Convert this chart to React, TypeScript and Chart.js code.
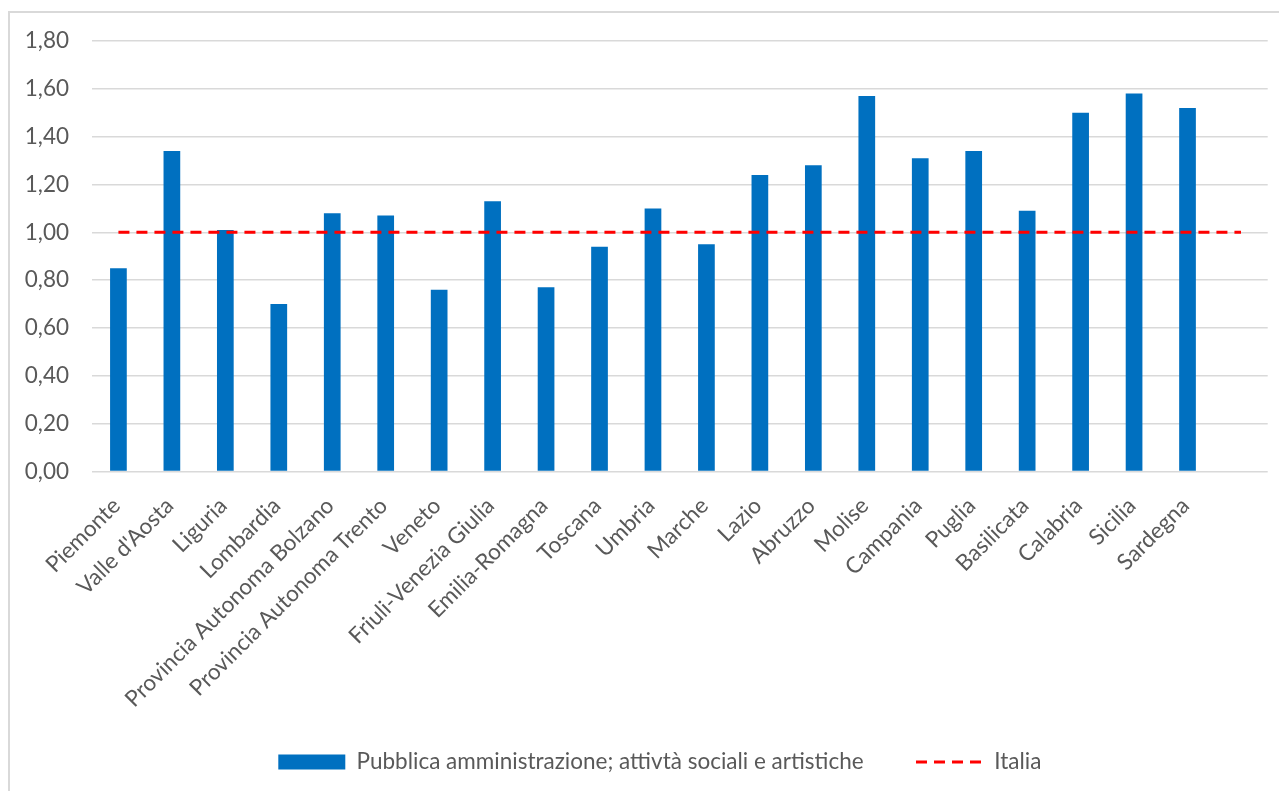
import React, { useEffect, useRef } from "react";
import { Chart, registerables } from "chart.js";

Chart.register(...registerables);

// ---- Data -------------------------------------------------------------
const categories: string[] = [
  "Piemonte",
  "Valle d'Aosta",
  "Liguria",
  "Lombardia",
  "Provincia Autonoma Bolzano",
  "Provincia Autonoma Trento",
  "Veneto",
  "Friuli-Venezia Giulia",
  "Emilia-Romagna",
  "Toscana",
  "Umbria",
  "Marche",
  "Lazio",
  "Abruzzo",
  "Molise",
  "Campania",
  "Puglia",
  "Basilicata",
  "Calabria",
  "Sicilia",
  "Sardegna",
  "",
];

const regionValues: (number | null)[] = [
  0.85, 1.34, 1.01, 0.7, 1.08, 1.07, 0.76, 1.13, 0.77, 0.94, 1.1, 0.95, 1.24,
  1.28, 1.57, 1.31, 1.34, 1.09, 1.5, 1.58, 1.52, null,
];

const italiaValues: number[] = [
  1.0, 1.0, 1.0, 1.0, 1.0, 1.0, 1.0, 1.0, 1.0, 1.0, 1.0, 1.0, 1.0, 1.0, 1.0,
  1.0, 1.0, 1.0, 1.0, 1.0, 1.0, 1.0,
];

const yTickValues: number[] = [0, 0.2, 0.4, 0.6, 0.8, 1.0, 1.2, 1.4, 1.6, 1.8];

const seriesLabel = "Pubblica amministrazione; attivtà sociali e artistiche";
const italiaLabel = "Italia";

// ---- Styles -------------------------------------------------------------
const BAR_COLOR = "#0070C0";
const LINE_COLOR = "#FF0000";
const GRID_COLOR = "#D9D9D9";
const TEXT_COLOR = "#595959";
const FONT_FAMILY = "Lato";
const FONT_SIZE = 22.5;

const formatTick = (v: number) => Number(v).toFixed(2).replace(".", ",");

export default function App() {
  const canvasRef = useRef<HTMLCanvasElement>(null);

  useEffect(() => {
    document.documentElement.style.overflow = "hidden";
    document.body.style.overflow = "hidden";

    const measure = document.createElement("canvas").getContext("2d")!;
    measure.font = `${FONT_SIZE}px ${FONT_FAMILY}`;
    const textW = measure.measureText(seriesLabel).width;
    const yLabelW = measure.measureText(formatTick(1.8)).width;
    const BOX_W = 67;
    const legendPad = Math.max(10, 906 - 268.3 - BOX_W - FONT_SIZE / 2 - textW);
    const PLOT_LEFT = 81.7;
    const Y_LABEL_RIGHT = 59;
    const padLeft = Math.max(0, Y_LABEL_RIGHT - yLabelW);

    const chart = new Chart(canvasRef.current!, {
      type: "bar",
      data: {
        labels: categories,
        datasets: [
          {
            type: "bar",
            label: seriesLabel,
            data: regionValues,
            backgroundColor: BAR_COLOR,
            borderWidth: 0,
            barPercentage: 0.3125,
            categoryPercentage: 1,
            order: 2,
          } as any,
          {
            type: "line",
            label: italiaLabel,
            data: italiaValues,
            borderColor: LINE_COLOR,
            backgroundColor: LINE_COLOR,
            borderWidth: 3,
            borderDash: [11, 7],
            pointRadius: 0,
            fill: false,
            tension: 0,
            order: 1,
          } as any,
        ],
      },
      options: {
        animation: false,
        responsive: true,
        maintainAspectRatio: false,
        layout: { padding: { left: padLeft, top: 28, right: 27.3, bottom: 0 } },
        plugins: {
          tooltip: { enabled: false },
          legend: {
            position: "bottom",
            align: "start",
            maxHeight: 40,
            labels: {
              color: TEXT_COLOR,
              font: { family: FONT_FAMILY, size: FONT_SIZE },
              usePointStyle: true,
              pointStyleWidth: BOX_W,
              boxHeight: 15,
              padding: legendPad,
              generateLabels: (ch: any) => {
                const items = (Chart.defaults.plugins.legend.labels as any).generateLabels(ch);
                items.sort((a: any, b: any) => a.datasetIndex - b.datasetIndex);
                return items.map((it: any) =>
                  it.datasetIndex === 0
                    ? {
                        ...it,
                        pointStyle: "rect",
                        fillStyle: BAR_COLOR,
                        strokeStyle: BAR_COLOR,
                        lineWidth: 0,
                        lineDash: [],
                        rotation: 0,
                      }
                    : {
                        ...it,
                        pointStyle: "line",
                        fillStyle: LINE_COLOR,
                        strokeStyle: LINE_COLOR,
                        lineWidth: 3,
                        lineDash: [11, 7],
                        lineCap: "butt",
                        rotation: 0,
                      }
                );
              },
            },
          },
        },
        scales: {
          x: {
            grid: { display: false, drawTicks: false },
            border: { display: false },
            ticks: {
              color: TEXT_COLOR,
              font: { family: FONT_FAMILY, size: FONT_SIZE },
              minRotation: 45,
              maxRotation: 45,
              autoSkip: false,
              padding: 21,
              labelOffset: -2,
            },
            afterFit: (s: any) => {
              const lgH = s.chart.legend ? s.chart.legend.height : 0;
              s.height = s.chart.height - lgH - 458.5;
            },
          },
          y: {
            min: 0,
            max: 1.8,
            grid: { color: GRID_COLOR, lineWidth: 1.5, drawTicks: false },
            border: { display: false },
            ticks: {
              color: TEXT_COLOR,
              font: { family: FONT_FAMILY, size: FONT_SIZE },
              padding: 0,
              crossAlign: "far",
              callback: (v: any) => formatTick(v),
            },
            afterBuildTicks: (s: any) => {
              s.ticks = yTickValues.map((v) => ({ value: v }));
            },
            afterFit: (s: any) => {
              s.width = PLOT_LEFT - padLeft;
            },
          },
        },
      },
      plugins: [
        {
          id: "legendPlacement",
          afterLayout(ch: any) {
            const lg = ch.legend;
            if (!lg) return;
            const pad = lg.options.labels.padding;
            const w = lg.width;
            lg.left = 268.3 - pad;
            lg.right = lg.left + w;
            lg.top = 749 - FONT_SIZE / 2 - pad;
            lg.bottom = ch.height;
          },
        },
      ],
    });
    return () => chart.destroy();
  }, []);

  return (
    <div
      style={{
        position: "relative",
        marginTop: 3,
        width: 1285,
        height: 780,
        border: `2px solid ${GRID_COLOR}`,
        boxSizing: "content-box",
      }}
    >
      <canvas ref={canvasRef} style={{ display: "block" }} />
    </div>
  );
}
